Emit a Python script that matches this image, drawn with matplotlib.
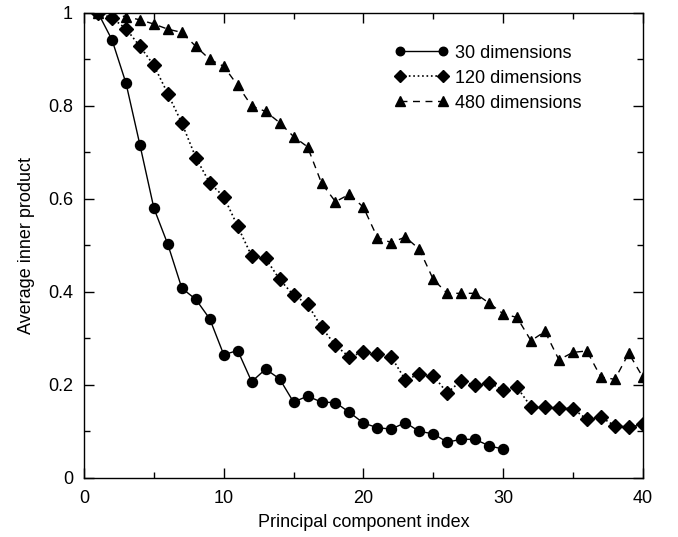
import numpy as np
import matplotlib.pyplot as plt

plt.rcParams["font.family"] = ["Liberation Sans", "DejaVu Sans"]

# principal component index
idx30 = np.arange(1, 31)
idx120 = np.arange(1, 41)
idx480 = np.arange(1, 41)

# average inner product
dim30 = [1.0, 0.942, 0.849, 0.716, 0.580, 0.502, 0.408, 0.384, 0.342, 0.265,
         0.274, 0.207, 0.234, 0.213, 0.163, 0.176, 0.163, 0.162, 0.141, 0.118,
         0.108, 0.105, 0.119, 0.100, 0.095, 0.077, 0.083, 0.083, 0.069, 0.062]
dim120 = [1.0, 0.989, 0.966, 0.928, 0.887, 0.826, 0.763, 0.689, 0.634, 0.605,
          0.541, 0.477, 0.472, 0.427, 0.393, 0.374, 0.324, 0.285, 0.260, 0.271,
          0.267, 0.260, 0.211, 0.223, 0.220, 0.183, 0.209, 0.199, 0.205, 0.189,
          0.195, 0.153, 0.153, 0.151, 0.149, 0.126, 0.131, 0.112, 0.109, 0.115]
dim480 = [1.0, 0.996, 0.992, 0.985, 0.976, 0.965, 0.958, 0.928, 0.900, 0.885,
          0.844, 0.800, 0.788, 0.764, 0.734, 0.712, 0.634, 0.594, 0.610, 0.582,
          0.517, 0.506, 0.518, 0.492, 0.427, 0.397, 0.397, 0.397, 0.376, 0.353,
          0.345, 0.295, 0.315, 0.254, 0.270, 0.273, 0.217, 0.212, 0.268, 0.217]

labels = ["30 dimensions", "120 dimensions", "480 dimensions"]


def main():
  fig = plt.figure(figsize=(6.78, 5.37), dpi=100)
  ax = fig.add_axes([0.124, 0.110, 0.824, 0.866])

  ax.plot(idx30, dim30, '-', color='black', lw=1.0, marker='o', ms=7.2,
          label=labels[0])
  ax.plot(idx120, dim120, ':', color='black', lw=1.2, marker='D', ms=7,
          label=labels[1])
  ax.plot(idx480, dim480, '--', color='black', lw=1.0, marker='^', ms=7.8,
          dashes=(5, 4), label=labels[2])

  ax.set_xlim(0, 40)
  ax.set_ylim(0, 1)
  ax.set_xticks([0, 10, 20, 30, 40])
  ax.set_xticks([5, 15, 25, 35], minor=True)
  ax.set_yticks([0, 0.2, 0.4, 0.6, 0.8, 1.0])
  ax.set_yticklabels(["0", "0.2", "0.4", "0.6", "0.8", "1"])
  ax.set_yticks([0.1, 0.3, 0.5, 0.7, 0.9], minor=True)
  ax.tick_params(which='both', direction='in', top=True, right=True,
                 labelsize=13, width=1.0)
  ax.tick_params(which='major', length=7)
  ax.tick_params(which='minor', length=4)
  ax.tick_params(axis='y', pad=8)
  ax.tick_params(axis='x', pad=9)
  for sp in ax.spines.values():
    sp.set_linewidth(1.0)

  ax.set_xlabel("Principal component index", fontsize=13, labelpad=5)
  ax.set_ylabel("Average inner product", fontsize=13, labelpad=9)

  ax.legend(loc='upper left', bbox_to_anchor=(0.555, 0.932), frameon=False,
            numpoints=2, markerscale=0.85, fontsize=13, handlelength=3.0,
            handletextpad=0.35, labelspacing=0.45, borderpad=0,
            borderaxespad=0)

  fig.savefig("out.png", dpi=100)


if __name__ == "__main__":
  main()
